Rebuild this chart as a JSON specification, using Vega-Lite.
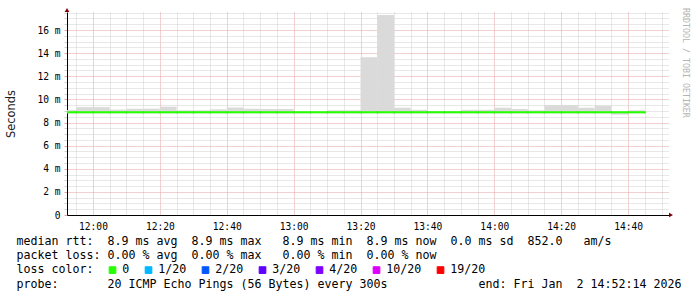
{
  "$schema": "https://vega.github.io/schema/vega-lite/v6.json",
  "width": 602,
  "height": 203,
  "autosize": "none",
  "padding": {"left": 67, "top": 12, "right": 28, "bottom": 82},
  "background": "white",
  "config": {
    "view": {"stroke": null},
    "axis": {
      "labelFont": "DejaVu Sans Mono",
      "labelFontSize": 9.6,
      "labelColor": "#000000",
      "labelOverlap": false,
      "domainColor": "#000000",
      "domainWidth": 1
    },
    "axisX": {"labelOverlap": false},
    "axisY": {"labelOverlap": false}
  },
  "title": {
    "text": "RRDTOOL / TOBI OETIKER",
    "orient": "right",
    "anchor": "start",
    "font": "DejaVu Sans Mono",
    "fontSize": 8.3,
    "fontWeight": "normal",
    "color": "#b4b4b4",
    "baseline": "alphabetic",
    "offset": -6
  },
  "datasets": {
    "smoke": [
      {"start": 710, "end": 715, "lo": 8.8, "hi": 9.08},
      {"start": 715, "end": 720, "lo": 8.8, "hi": 9.33},
      {"start": 720, "end": 725, "lo": 8.8, "hi": 9.33},
      {"start": 725, "end": 730, "lo": 8.8, "hi": 9.12},
      {"start": 730, "end": 735, "lo": 8.8, "hi": 9.2},
      {"start": 735, "end": 740, "lo": 8.8, "hi": 9.2},
      {"start": 740, "end": 745, "lo": 8.8, "hi": 9.37},
      {"start": 745, "end": 750, "lo": 8.8, "hi": 9.06},
      {"start": 750, "end": 755, "lo": 8.8, "hi": 9.06},
      {"start": 755, "end": 760, "lo": 8.8, "hi": 9.14},
      {"start": 760, "end": 765, "lo": 8.8, "hi": 9.3},
      {"start": 765, "end": 770, "lo": 8.8, "hi": 9.2},
      {"start": 770, "end": 775, "lo": 8.8, "hi": 9.17},
      {"start": 775, "end": 780, "lo": 8.8, "hi": 9.17},
      {"start": 780, "end": 785, "lo": 8.8, "hi": 8.9},
      {"start": 785, "end": 790, "lo": 8.8, "hi": 8.9},
      {"start": 790, "end": 795, "lo": 8.8, "hi": 9.06},
      {"start": 795, "end": 800, "lo": 8.8, "hi": 9.06},
      {"start": 800, "end": 805, "lo": 8.8, "hi": 13.64},
      {"start": 805, "end": 810, "lo": 8.8, "hi": 17.3},
      {"start": 810, "end": 815, "lo": 8.8, "hi": 9.28},
      {"start": 815, "end": 820, "lo": 8.8, "hi": 9.1},
      {"start": 820, "end": 825, "lo": 8.8, "hi": 9.0},
      {"start": 825, "end": 830, "lo": 8.8, "hi": 9.0},
      {"start": 830, "end": 835, "lo": 8.8, "hi": 9.1},
      {"start": 835, "end": 840, "lo": 8.8, "hi": 9.1},
      {"start": 840, "end": 845, "lo": 8.8, "hi": 9.28},
      {"start": 845, "end": 850, "lo": 8.8, "hi": 9.17},
      {"start": 850, "end": 855, "lo": 8.8, "hi": 9.06},
      {"start": 855, "end": 860, "lo": 8.8, "hi": 9.5},
      {"start": 860, "end": 865, "lo": 8.8, "hi": 9.5},
      {"start": 865, "end": 870, "lo": 8.8, "hi": 9.28},
      {"start": 870, "end": 875, "lo": 8.8, "hi": 9.45},
      {"start": 875, "end": 880, "lo": 8.68, "hi": 8.9},
      {"start": 880, "end": 885, "lo": 8.8, "hi": 9.06}
    ],
    "median": [
      {"start": 710, "med": 8.88, "loss": "0"},
      {"start": 715, "med": 8.88, "loss": "0"},
      {"start": 720, "med": 8.88, "loss": "0"},
      {"start": 725, "med": 8.88, "loss": "0"},
      {"start": 730, "med": 8.88, "loss": "0"},
      {"start": 735, "med": 8.88, "loss": "0"},
      {"start": 740, "med": 8.88, "loss": "0"},
      {"start": 745, "med": 8.88, "loss": "0"},
      {"start": 750, "med": 8.88, "loss": "0"},
      {"start": 755, "med": 8.88, "loss": "0"},
      {"start": 760, "med": 8.88, "loss": "0"},
      {"start": 765, "med": 8.88, "loss": "0"},
      {"start": 770, "med": 8.88, "loss": "0"},
      {"start": 775, "med": 8.88, "loss": "0"},
      {"start": 780, "med": 8.88, "loss": "0"},
      {"start": 785, "med": 8.88, "loss": "0"},
      {"start": 790, "med": 8.88, "loss": "0"},
      {"start": 795, "med": 8.88, "loss": "0"},
      {"start": 800, "med": 8.88, "loss": "0"},
      {"start": 805, "med": 8.88, "loss": "0"},
      {"start": 810, "med": 8.88, "loss": "0"},
      {"start": 815, "med": 8.88, "loss": "0"},
      {"start": 820, "med": 8.88, "loss": "0"},
      {"start": 825, "med": 8.88, "loss": "0"},
      {"start": 830, "med": 8.88, "loss": "0"},
      {"start": 835, "med": 8.88, "loss": "0"},
      {"start": 840, "med": 8.88, "loss": "0"},
      {"start": 845, "med": 8.88, "loss": "0"},
      {"start": 850, "med": 8.88, "loss": "0"},
      {"start": 855, "med": 8.88, "loss": "0"},
      {"start": 860, "med": 8.88, "loss": "0"},
      {"start": 865, "med": 8.88, "loss": "0"},
      {"start": 870, "med": 8.88, "loss": "0"},
      {"start": 875, "med": 8.88, "loss": "0"},
      {"start": 880, "med": 8.88, "loss": "0"},
      {"start": 885, "med": 8.88, "loss": "0"}
    ]
  },
  "layer": [
    {
      "data": {"name": "smoke"},
      "mark": {"type": "rect", "color": "#dadada", "clip": true},
      "encoding": {
        "x": {
          "field": "start",
          "type": "quantitative",
          "scale": {"domain": [712.2333, 892.2333], "nice": false, "zero": false},
          "axis": {
            "values": [715, 720, 725, 730, 735, 740, 745, 750, 755, 760, 765, 770, 775, 780, 785, 790, 795, 800, 805, 810, 815, 820, 825, 830, 835, 840, 845, 850, 855, 860, 865, 870, 875, 880, 885, 890],
            "tickCount": 100,
            "labelExpr": "datum.value % 20 == 0 ? format(floor(datum.value / 60), '02d') + ':' + format(datum.value % 60, '02d') : ''",
            "labelFontSize": {"condition": {"test": "datum.value % 20 == 0", "value": 9.6}, "value": 0},
            "labelOverlap": false,
            "labelFlush": false,
            "labelPadding": 6,
            "ticks": false,
            "grid": true,
            "gridDash": [1, 1],
            "gridWidth": 1,
            "gridColor": {"condition": {"test": "datum.value % 20 == 0", "value": "#e6a0a0"}, "value": "#d0d0d0"},
            "title": [
              "median rtt:\u00a0\u00a08.9 ms avg\u00a0\u00a08.9 ms max\u00a0\u00a0\u00a08.9 ms min\u00a0\u00a08.9 ms now\u00a0\u00a00.0 ms sd\u00a0\u00a0852.0\u00a0\u00a0\u00a0am/s",
              "packet loss: 0.00 % avg\u00a0\u00a00.00 % max\u00a0\u00a0\u00a00.00 % min\u00a0\u00a00.00 % now",
              "loss color:",
              "probe:\u00a0\u00a0\u00a0\u00a0\u00a0\u00a0\u00a020 ICMP Echo Pings (56 Bytes) every 300s\u00a0\u00a0\u00a0\u00a0\u00a0\u00a0\u00a0\u00a0\u00a0\u00a0\u00a0\u00a0\u00a0end: Fri Jan\u00a0\u00a02 14:52:14 2026"
            ],
            "titleFont": "DejaVu Sans Mono",
            "titleFontSize": 11.63,
            "titleFontWeight": "normal",
            "titleColor": "#000000",
            "titleX": -51,
            "titleY": 29.5,
            "titleAlign": "left",
            "titleAnchor": "start",
            "titleBaseline": "alphabetic",
            "titleLineHeight": 14.2,
            "titleLimit": 1000
          }
        },
        "x2": {"field": "end"},
        "y": {
          "field": "lo",
          "type": "quantitative",
          "scale": {"domain": [0, 17.56], "nice": false, "zero": false},
          "axis": {
            "values": [0, 0.5, 1, 1.5, 2, 2.5, 3, 3.5, 4, 4.5, 5, 5.5, 6, 6.5, 7, 7.5, 8, 8.5, 9, 9.5, 10, 10.5, 11, 11.5, 12, 12.5, 13, 13.5, 14, 14.5, 15, 15.5, 16, 16.5, 17, 17.5],
            "tickCount": 100,
            "labelExpr": "datum.value % 2 == 0 ? (datum.value == 0 ? '0' : datum.value + ' m') : ''",
            "labelFontSize": {"condition": {"test": "datum.value % 2 == 0", "value": 9.6}, "value": 0},
            "labelOverlap": false,
            "labelPadding": 4,
            "tickSize": 3,
            "tickColor": {"condition": {"test": "datum.value % 2 == 0", "value": "#e6a0a0"}, "value": "#d0d0d0"},
            "grid": true,
            "gridDash": [1, 1],
            "gridWidth": 1,
            "gridColor": {"condition": {"test": "datum.value % 2 == 0", "value": "#e6a0a0"}, "value": "#d0d0d0"},
            "title": "Seconds",
            "titleFont": "DejaVu Sans",
            "titleFontSize": 11.4,
            "titleFontWeight": "normal",
            "titleColor": "#222222",
            "titleAngle": -90,
            "titleX": -56,
            "titleY": 101.5,
            "titleAlign": "center",
            "titleBaseline": "middle"
          }
        },
        "y2": {"field": "hi"}
      }
    },
    {
      "data": {"name": "median"},
      "mark": {"type": "point", "shape": "square", "filled": true, "size": 4, "opacity": 1, "clip": true},
      "encoding": {
        "x": {"field": "start", "type": "quantitative"},
        "y": {"field": "med", "type": "quantitative"},
        "color": {
          "field": "loss",
          "type": "nominal",
          "scale": {
            "domain": ["0", "1/20", "2/20", "3/20", "4/20", "10/20", "19/20"],
            "range": ["#26ff00", "#00b8ff", "#0059ff", "#5e00ff", "#7e00ff", "#dd00ff", "#ff0000"]
          },
          "legend": {
            "orient": "none",
            "legendX": 39.7,
            "legendY": 252,
            "direction": "horizontal",
            "padding": 0,
            "title": null,
            "labelFont": "DejaVu Sans Mono",
            "labelFontSize": 11.63,
            "labelColor": "#000000",
            "labelOffset": 4,
            "columnPadding": 13,
            "symbolType": "square",
            "symbolSize": 45,
            "symbolStrokeWidth": 1,
            "symbolStrokeColor": "#000000",
            "symbolOpacity": 1
          }
        }
      }
    },
    {
      "data": {"name": "median"},
      "mark": {"type": "line", "interpolate": "step-after", "strokeWidth": 2, "clip": true},
      "encoding": {
        "x": {"field": "start", "type": "quantitative"},
        "y": {"field": "med", "type": "quantitative"},
        "color": {"field": "loss", "type": "nominal", "legend": null}
      }
    },
    {
      "data": {"values": [{}]},
      "mark": {"type": "point", "shape": "triangle-up", "filled": true, "color": "#800000", "size": 22, "opacity": 1, "yOffset": -2},
      "encoding": {
        "x": {"datum": 712.2333, "type": "quantitative"},
        "y": {"datum": 17.56, "type": "quantitative"}
      }
    },
    {
      "data": {"values": [{}]},
      "mark": {"type": "point", "shape": "triangle-right", "filled": true, "color": "#800000", "size": 22, "opacity": 1, "xOffset": 2},
      "encoding": {
        "x": {"datum": 892.2333, "type": "quantitative"},
        "y": {"datum": 0, "type": "quantitative"}
      }
    }
  ]
}
